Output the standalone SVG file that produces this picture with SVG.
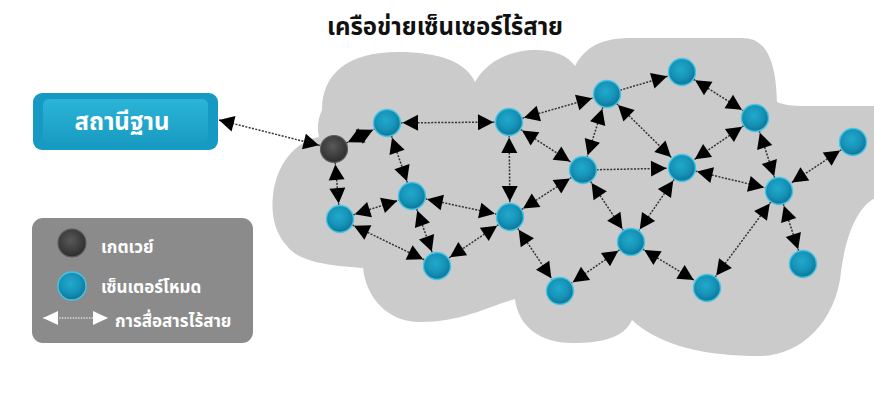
<svg xmlns="http://www.w3.org/2000/svg" width="874" height="407" viewBox="0 0 874 407">
  <defs>
    <style>
      .th { font-family: "Noto Sans Thai", "Noto Sans", "DejaVu Sans", "Liberation Sans", sans-serif; }
      .title { font-size: 24px; font-weight: bold; fill: #111; }
      .lbl { font-size: 17px; font-weight: bold; fill: #fff; }
      .link { fill: none; stroke: #333; stroke-width: 1.5; stroke-dasharray: 2 1.4; }
      .both { marker-start: url(#ah); marker-end: url(#ah); }
      .one { marker-end: url(#ah); }
      .sensor { fill: url(#teal); stroke: #45c4e4; stroke-width: 1.4; }
      .gw { fill: url(#dark); stroke: #5c5c5c; stroke-width: 1.2; }
    </style>
    <radialGradient id="teal" cx="45%" cy="40%" r="62%">
      <stop offset="0" stop-color="#22a9cc"/>
      <stop offset="0.55" stop-color="#1694b9"/>
      <stop offset="0.9" stop-color="#0f7a9d"/>
      <stop offset="1" stop-color="#30b4d8"/>
    </radialGradient>
    <radialGradient id="dark" cx="45%" cy="40%" r="62%">
      <stop offset="0" stop-color="#595959"/>
      <stop offset="0.7" stop-color="#3a3a3a"/>
      <stop offset="1" stop-color="#2a2a2a"/>
    </radialGradient>
    <linearGradient id="boxFace" x1="0" y1="0" x2="0" y2="1">
      <stop offset="0" stop-color="#2bb4d8"/>
      <stop offset="1" stop-color="#1a9cc2"/>
    </linearGradient>
    <!-- arrowhead set back from the path end so it stops at a node's rim -->
    <marker id="ah" markerUnits="userSpaceOnUse" orient="auto-start-reverse" viewBox="-33 -9 35 18" markerWidth="35" markerHeight="18" refX="0" refY="0">
      <path d="M-15.5,0 L-31,-8 L-31,8 Z" fill="#000"/>
    </marker>
    <!-- arrowhead with its tip on the path end -->
    <marker id="tip" markerUnits="userSpaceOnUse" orient="auto-start-reverse" viewBox="-17 -9 18 18" markerWidth="18" markerHeight="18" refX="0" refY="0">
      <path d="M0,0 L-15,-8 L-15,8 Z" fill="#000"/>
    </marker>
    <marker id="tipW" markerUnits="userSpaceOnUse" orient="auto-start-reverse" viewBox="-16 -8 17 16" markerWidth="17" markerHeight="16" refX="0" refY="0">
      <path d="M0,0 L-15,-7 L-15,7 Z" fill="#fff"/>
    </marker>
  </defs>

  <rect width="874" height="407" fill="#fff"/>

  <text class="th title" x="445" y="35" text-anchor="middle">เครือข่ายเซ็นเซอร์ไร้สาย</text>

  <!-- cloud backdrop -->
  <path id="cloud" fill="#cbcbcb" d="M322,110 C322,72 350,52 398,52 C440,52 466,62 475,82 C486,62 510,50 535,50 C555,50 568,56 575,66 C586,46 602,38 632,38 L742,38 C764,38 776,56 777,102 C786,106 796,106 812,106 L880,106 L880,196 C860,202 846,232 841,272 C836,322 800,356 760,356 C705,356 660,346 632,320 C624,338 602,343 572,343 C540,343 518,326 515,299 C490,306 462,322 420,322 C386,322 366,296 363,268 C338,266 300,264 287,246 C274,232 271,212 273,196 C276,164 296,141 319,137 C317,128 318,118 322,110 Z"/>

  <!-- links -->
  <g id="connectors">
    <line class="link" x1="219" y1="120" x2="334" y2="149" marker-start="url(#tip)" marker-end="url(#ah)"/>
    <line class="link both" x1="334" y1="149" x2="387" y2="123"/>
    <line class="link both" x1="334" y1="149" x2="340" y2="219"/>
    <line class="link both" x1="387" y1="123" x2="509" y2="122"/>
    <line class="link both" x1="387" y1="123" x2="412" y2="196"/>
    <line class="link both" x1="340" y1="219" x2="412" y2="196"/>
    <line class="link both" x1="340" y1="219" x2="437" y2="266"/>
    <line class="link both" x1="412" y1="196" x2="437" y2="266"/>
    <line class="link both" x1="412" y1="196" x2="510" y2="217"/>
    <line class="link both" x1="509" y1="122" x2="510" y2="217"/>
    <line class="link both" x1="509" y1="122" x2="583" y2="170"/>
    <line class="link both" x1="509" y1="122" x2="607" y2="94"/>
    <line class="link both" x1="510" y1="217" x2="583" y2="170"/>
    <line class="link both" x1="510" y1="217" x2="437" y2="266"/>
    <line class="link both" x1="510" y1="217" x2="560" y2="291"/>
    <line class="link both" x1="607" y1="94" x2="583" y2="170"/>
    <line class="link one" x1="607" y1="94" x2="682" y2="72"/>
    <line class="link both" x1="607" y1="94" x2="682" y2="168"/>
    <line class="link both" x1="682" y1="72" x2="755" y2="118"/>
    <line class="link both" x1="755" y1="118" x2="682" y2="168"/>
    <line class="link both" x1="755" y1="118" x2="779" y2="191"/>
    <line class="link both" x1="853" y1="142" x2="779" y2="191"/>
    <line class="link one" x1="583" y1="170" x2="682" y2="168"/>
    <line class="link both" x1="682" y1="168" x2="779" y2="191"/>
    <line class="link both" x1="583" y1="170" x2="631" y2="242"/>
    <line class="link both" x1="682" y1="168" x2="631" y2="242"/>
    <line class="link both" x1="631" y1="242" x2="560" y2="291"/>
    <line class="link both" x1="631" y1="242" x2="707" y2="288"/>
    <line class="link both" x1="779" y1="191" x2="707" y2="288"/>
    <line class="link both" x1="779" y1="191" x2="803" y2="264"/>
  </g>

  <!-- base station -->
  <g id="base-station">
    <rect x="33" y="93" width="185" height="57" rx="9" fill="#1699c2"/>
    <rect x="43" y="99" width="165" height="44" rx="6" fill="url(#boxFace)"/>
    <text class="th" x="122" y="130" text-anchor="middle" font-size="24" font-weight="bold" fill="#fff">สถานีฐาน</text>
  </g>

  <!-- gateway and sensor nodes -->
  <g id="gateway"><circle class="gw" cx="334" cy="149" r="13.5"/></g>
  <g id="n1"><circle class="sensor" cx="387" cy="123" r="13.5"/></g>
  <g id="n2"><circle class="sensor" cx="509" cy="122" r="13.5"/></g>
  <g id="n3"><circle class="sensor" cx="607" cy="94" r="13.5"/></g>
  <g id="n4"><circle class="sensor" cx="682" cy="72" r="13.5"/></g>
  <g id="n5"><circle class="sensor" cx="755" cy="118" r="13.5"/></g>
  <g id="n6"><circle class="sensor" cx="853" cy="142" r="13.5"/></g>
  <g id="n7"><circle class="sensor" cx="340" cy="219" r="13.5"/></g>
  <g id="n8"><circle class="sensor" cx="412" cy="196" r="13.5"/></g>
  <g id="n9"><circle class="sensor" cx="510" cy="217" r="13.5"/></g>
  <g id="n10"><circle class="sensor" cx="583" cy="170" r="13.5"/></g>
  <g id="n11"><circle class="sensor" cx="682" cy="168" r="13.5"/></g>
  <g id="n12"><circle class="sensor" cx="779" cy="191" r="13.5"/></g>
  <g id="n13"><circle class="sensor" cx="437" cy="266" r="13.5"/></g>
  <g id="n14"><circle class="sensor" cx="631" cy="242" r="13.5"/></g>
  <g id="n15"><circle class="sensor" cx="560" cy="291" r="13.5"/></g>
  <g id="n16"><circle class="sensor" cx="707" cy="288" r="13.5"/></g>
  <g id="n17"><circle class="sensor" cx="803" cy="264" r="13.5"/></g>

  <!-- legend -->
  <g id="legend">
    <rect x="32" y="218" width="221" height="125" rx="11" fill="#8b8b8b"/>
    <circle class="gw" cx="72" cy="243" r="14"/>
    <text class="th lbl" x="101" y="253">เกตเวย์</text>
    <circle class="sensor" cx="72" cy="286" r="14"/>
    <text class="th lbl" x="101" y="293">เซ็นเตอร์โหมด</text>
    <line x1="43" y1="318" x2="108" y2="318" stroke="#fff" stroke-width="1.2" stroke-dasharray="1.5 1.2" marker-start="url(#tipW)" marker-end="url(#tipW)"/>
    <text class="th lbl" x="115" y="327">การสื่อสารไร้สาย</text>
  </g>
</svg>
